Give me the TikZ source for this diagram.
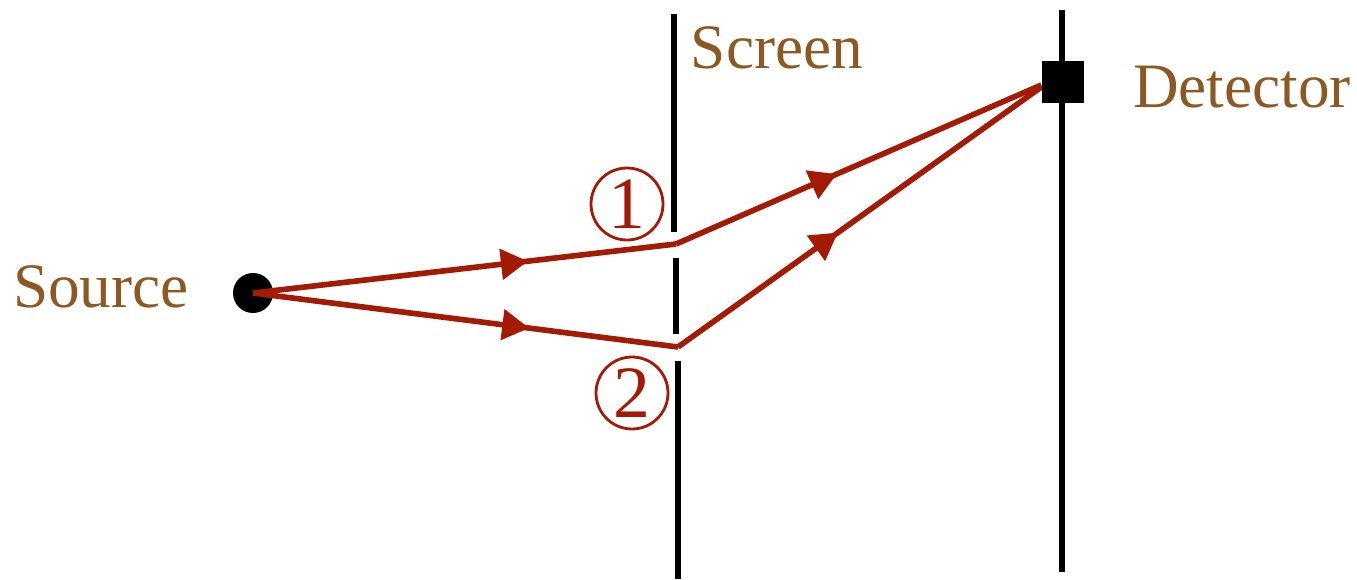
\documentclass[tikz,border=0pt]{standalone}
\usepackage{fontspec}
\setmainfont{Liberation Serif}
\usepackage{tikz}
\usetikzlibrary{arrows.meta, positioning, decorations.markings}
\definecolor{ray}{HTML}{A31A05}
\definecolor{labelc}{HTML}{8B5A22}
\tikzset{
  wall/.style  ={draw=black, line width=1.5pt},
  path/.style  ={draw=ray, line width=1.6pt},
  mid/.style   ={postaction={decorate}, decoration={markings,
                 mark=at position #1 with {\arrow{Triangle[length=2.7mm,width=3mm]}}}},
  tag/.style   ={font=\fontsize{18}{22}\selectfont, text=labelc},
  slitno/.style={circle, draw=ray, text=ray, line width=0.8pt, minimum size=0.72cm,
                 inner sep=0pt, font=\fontsize{21}{24}\selectfont}
}
\begin{document}
\begin{tikzpicture}
  \useasboundingbox (0,0) rectangle (13.57,5.79);

  % screen with two slits
  \coordinate (scrtop) at (6.74,5.65);
  \coordinate (scrbot) at (6.78,0);
  \draw[wall] (scrtop) -- (6.74,3.47);
  \draw[wall] (6.76,3.21) -- (6.76,2.45);
  \draw[wall] (6.78,2.18) -- (scrbot);

  % detector plane
  \coordinate (dtop) at (10.62,5.69);
  \coordinate (dbot) at (10.62,0.07);
  \draw[wall] (dtop) -- (dbot);

  \node[circle, fill=black, minimum size=0.4cm, inner sep=0pt] (src) at (2.53,2.86) {};
  \node[fill=black, minimum size=0.42cm, inner sep=0pt] (det) at (10.63,4.97) {};
  \coordinate (s1) at (6.76,3.35);
  \coordinate (s2) at (6.78,2.32);

  \node[tag] (srclbl) at (1.01,2.92) {Source};
  \node[tag] (scrlbl) at (7.77,5.31) {Screen};
  \node[tag] (detlbl) at (12.42,4.92) {Detector};

  \node[slitno] (n1) at (6.27,3.75) {1};
  \node[slitno] (n2) at (6.32,1.86) {2};

  \draw[path, mid=0.65] (src.center) -- (s1);
  \draw[path, mid=0.65] (src.center) -- (s2);
  \draw[path, mid=0.44] (s1) -- ([yshift=-0.03cm]det.west);
  \draw[path, mid=0.44] (s2) -- ([yshift=-0.05cm]det.west);
  \node[fill=black, minimum size=0.42cm, inner sep=0pt] at (det) {};
\end{tikzpicture}
\end{document}
